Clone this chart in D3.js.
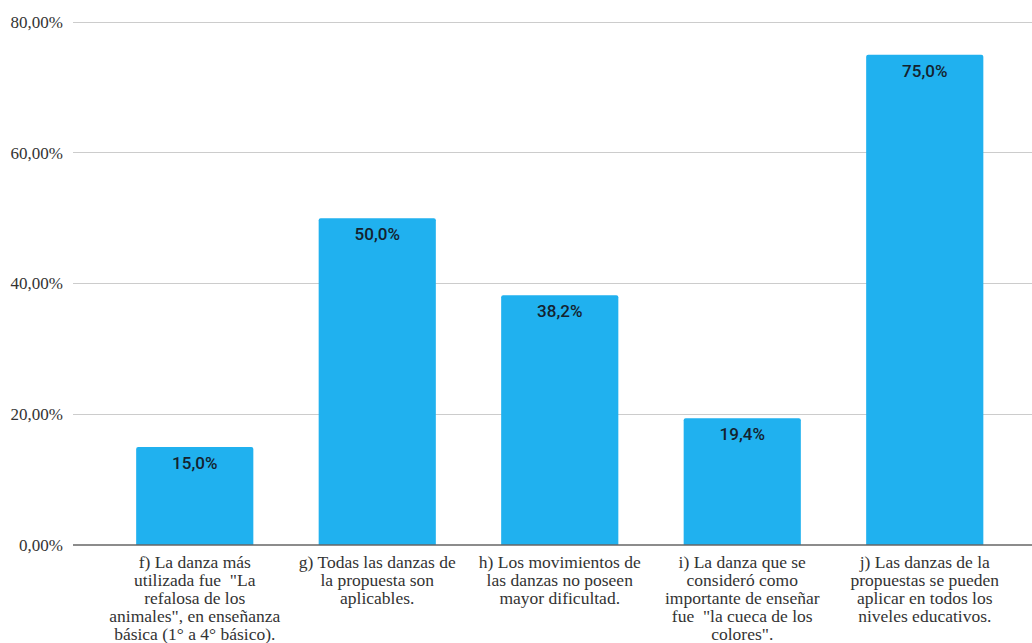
<!DOCTYPE html>
<html><head><meta charset="utf-8">
<script src="https://cdn.jsdelivr.net/npm/d3@7"></script>
<style>body{margin:0;background:#fff;}svg{display:block;} text{white-space:pre;}</style>
</head><body>
<svg id="c" width="1032" height="643"></svg>
<script>
const categories = [
  ["f) La danza más", "utilizada fue  \"La", "refalosa de los", "animales\", en enseñanza", "básica (1° a 4° básico)."],
  ["g) Todas las danzas de", "la propuesta son", "aplicables."],
  ["h) Los movimientos de", "las danzas no poseen", "mayor dificultad."],
  ["i) La danza que se", "consideró como", "importante de enseñar", "fue  \"la cueca de los", "colores\"."],
  ["j) Las danzas de la", "propuestas se pueden", "aplicar en todos los", "niveles educativos."]
];
const values = [15.0, 50.0, 38.2, 19.4, 75.0];
const valueLabels = ["15,0%", "50,0%", "38,2%", "19,4%", "75,0%"];
const yTicks = [0, 20, 40, 60, 80];
const yTickLabels = ["0,00%", "20,00%", "40,00%", "60,00%", "80,00%"];

const svg = d3.select("#c");
const keys = categories.map((d,i)=>"c"+i);
const x = d3.scaleBand().domain(keys).range([103.5, 1016]).paddingInner(0.358).paddingOuter(0.179);
const y = d3.scaleLinear().domain([0, 80]).range([545, 22]);

// gridlines
svg.append("g").selectAll("line").data(yTicks.filter(t=>t>0)).join("line")
  .attr("x1", 73).attr("x2", 1032).attr("y1", d=>y(d)).attr("y2", d=>y(d))
  .attr("stroke", "#cccccc").attr("stroke-width", 1).attr("shape-rendering","crispEdges");

// y axis labels
const yAxis = d3.axisLeft(y).tickValues(yTicks).tickFormat((d,i)=>yTickLabels[i]).tickSize(0).tickPadding(0);
const gy = svg.append("g").attr("transform", "translate(63,0)").call(yAxis);
gy.select(".domain").remove();
gy.selectAll("text").attr("font-family", "'Liberation Serif', 'Times New Roman', serif")
  .attr("font-size", 17).attr("fill", "#333").attr("dy", "0.32em");

// bars
const r = 2;
svg.append("g").selectAll("path").data(values).join("path")
  .attr("d", (d,i)=>{
    const x0 = x(keys[i]), w = x.bandwidth(), y0 = y(d), y1 = y(0);
    return `M${x0},${y1}V${y0+r}Q${x0},${y0} ${x0+r},${y0}H${x0+w-r}Q${x0+w},${y0} ${x0+w},${y0+r}V${y1}Z`;
  })
  .attr("fill", "#20b1ef");

// value labels
svg.append("g").selectAll("text").data(values).join("text")
  .attr("x", (d,i)=>x(keys[i]) + x.bandwidth()/2)
  .attr("y", d=>y(d) + 22)
  .attr("text-anchor", "middle")
  .attr("font-family", "Roboto, sans-serif").attr("font-size", 17).attr("font-weight", 500)
  .attr("fill", "#14222e")
  .text((d,i)=>valueLabels[i]);

// x axis baseline
svg.append("line").attr("x1", 73).attr("x2", 1032).attr("y1", y(0)).attr("y2", y(0))
  .attr("stroke", "#666").attr("stroke-width", 1.5);

// category labels
const gx = svg.append("g");
categories.forEach((lines, i)=>{
  const t = gx.append("text")
    .attr("x", x(keys[i]) + x.bandwidth()/2)
    .attr("y", 568)
    .attr("text-anchor", "middle")
    .attr("font-family", "'Liberation Serif', 'Times New Roman', serif")
    .attr("font-size", 17.5).attr("fill", "#333");
  lines.forEach((ln, j)=>{
    t.append("tspan").attr("x", x(keys[i]) + x.bandwidth()/2).attr("dy", j===0?0:18).text(ln);
  });
});
</script>
</body></html>
